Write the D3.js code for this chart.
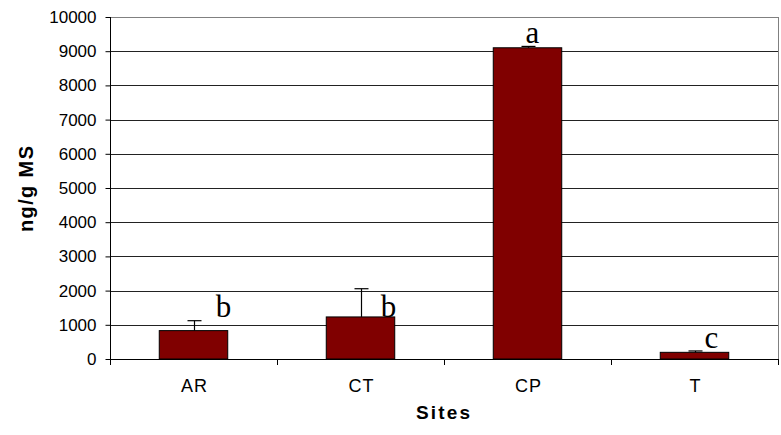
<!DOCTYPE html>
<html><head><meta charset="utf-8">
<script src="https://cdn.jsdelivr.net/npm/d3@7/dist/d3.min.js"></script>
<style>body{margin:0;background:#fff}svg{display:block}</style>
</head><body>
<svg id="c" width="781" height="435"></svg>
<script>
const categories = ["AR", "CT", "CP", "T"];
const values = [830, 1230, 9100, 195];
const errors = [290, 825, 40, 40];
const letters = ["b", "b", "a", "c"];
const letterValues = [1230, 1230, 9240, 322];
const letterOffsets = [30, 28, 5, 17];
const yTicks = [0,1000,2000,3000,4000,5000,6000,7000,8000,9000,10000];

const svg = d3.select("#c");
const L = 110, R = 778, T = 17, B = 359;
const x = d3.scaleBand().domain(categories).range([L, R]).paddingInner(0.59).paddingOuter(0.295);
const y = d3.scaleLinear().domain([0, 10000]).range([B, T]);

// gridlines
svg.append("g").selectAll("line").data(yTicks.slice(1)).join("line")
  .attr("x1", L).attr("x2", R)
  .attr("y1", d => Math.round(y(d)) + 0.5).attr("y2", d => Math.round(y(d)) + 0.5)
  .attr("stroke", d => d === 10000 ? "#808080" : "#222").attr("stroke-width", 1);
// right border
svg.append("line").attr("x1", R + 0.5).attr("x2", R + 0.5).attr("y1", T).attr("y2", B)
  .attr("stroke", "#808080");

// bars
svg.append("g").selectAll("rect").data(categories).join("rect")
  .attr("x", d => x(d)).attr("width", x.bandwidth())
  .attr("y", (d, i) => y(values[i])).attr("height", (d, i) => y(0) - y(values[i]))
  .attr("fill", "#800000").attr("stroke", "#000").attr("stroke-width", 1);

// error bars
const eg = svg.append("g").attr("stroke", "#000").attr("stroke-width", 1.2);
categories.forEach((c, i) => {
  const cx = Math.round(x(c) + x.bandwidth() / 2) + 0.5;
  const top = y(values[i] + errors[i]);
  eg.append("line").attr("x1", cx).attr("x2", cx).attr("y1", y(values[i])).attr("y2", top);
  eg.append("line").attr("x1", cx - 7).attr("x2", cx + 7).attr("y1", top).attr("y2", top);
});

// letters
svg.append("g").selectAll("text").data(letters).join("text")
  .attr("x", (d, i) => x(categories[i]) + x.bandwidth() / 2 + letterOffsets[i])
  .attr("y", (d, i) => y(letterValues[i]))
  .attr("text-anchor", "middle")
  .attr("font-family", "Liberation Serif, Times New Roman, serif")
  .attr("font-size", 31).attr("fill", "#000").text(d => d);

// y axis
const ya = svg.append("g").attr("transform", `translate(${L + 0.5},0)`)
  .call(d3.axisLeft(y).tickValues(yTicks).tickSize(5).tickPadding(9).tickFormat(d3.format("d")));
ya.select(".domain").attr("d", `M0,${T}V${B + 6}`).attr("stroke", "#000");
ya.selectAll(".tick line").attr("stroke", "#000");
ya.selectAll("text").attr("font-family", "Liberation Sans, Arial, sans-serif").attr("font-size", 17).attr("fill", "#000");

// x axis
const xa = svg.append("g");
xa.append("line").attr("x1", L).attr("x2", R + 1).attr("y1", B + 0.5).attr("y2", B + 0.5).attr("stroke", "#000");
const bounds = d3.range(categories.length + 1).map(i => L + i * x.step());
xa.selectAll("line.t").data(bounds).join("line").attr("class", "t")
  .attr("x1", d => Math.round(d) + 0.5).attr("x2", d => Math.round(d) + 0.5)
  .attr("y1", B).attr("y2", B + 6).attr("stroke", "#000");
xa.selectAll("text").data(categories).join("text")
  .attr("x", d => x(d) + x.bandwidth() / 2 + 1).attr("y", 392)
  .attr("text-anchor", "middle")
  .attr("font-family", "Liberation Sans, Arial, sans-serif").attr("font-size", 18)
  .attr("letter-spacing", 1)
  .attr("fill", "#000").text(d => d);

// axis titles
svg.append("text").attr("x", 443).attr("y", 419).attr("text-anchor", "middle")
  .attr("font-family", "Liberation Sans, Arial, sans-serif").attr("font-weight", "bold")
  .attr("font-size", 19).attr("textLength", 54).attr("lengthAdjust", "spacing").text("Sites");
svg.append("text").attr("transform", "translate(33,189) rotate(-90)").attr("text-anchor", "middle")
  .attr("font-family", "Liberation Sans, Arial, sans-serif").attr("font-weight", "bold")
  .attr("font-size", 20).attr("textLength", 86).attr("lengthAdjust", "spacing").text("ng/g MS");
</script>
</body></html>
